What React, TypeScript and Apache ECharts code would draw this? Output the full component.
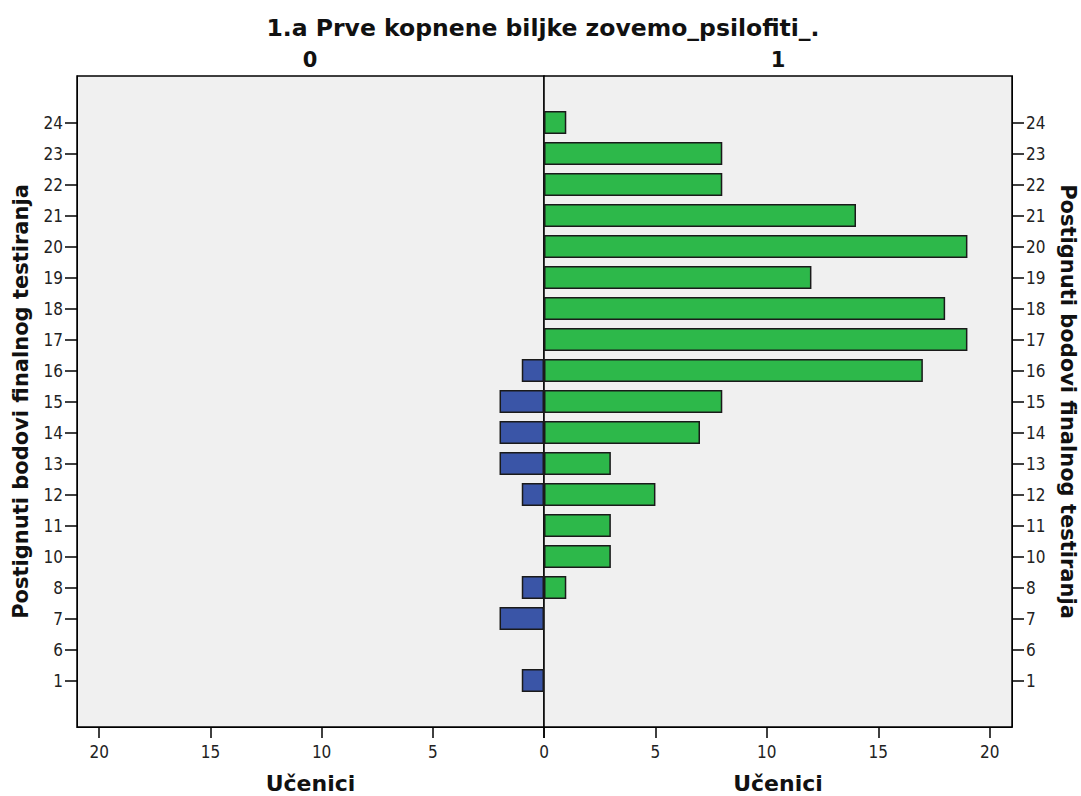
import React, { useEffect, useRef } from "react";
import * as echarts from "echarts";

const titleText = "1.a Prve kopnene biljke zovemo_psilofiti_.";
const panelLabels = ["0", "1"];
const xAxisName = "Učenici";
const yAxisName = "Postignuti bodovi finalnog testiranja";
const categories = ["1", "6", "7", "8", "10", "11", "12", "13", "14", "15", "16", "17", "18", "19", "20", "21", "22", "23", "24"];
const leftValues: (number | null)[] = [1, null, 2, 1, null, null, 1, 2, 2, 2, 1, null, null, null, null, null, null, null, null];
const rightValues: (number | null)[] = [null, null, null, 1, 3, 3, 5, 3, 7, 8, 17, 19, 18, 12, 19, 14, 8, 8, 1];
const xTicks = [0, 5, 10, 15, 20];

export default function App() {
  const ref = useRef<HTMLDivElement>(null);
  useEffect(() => {
    document.body.style.margin = "0";
    if (!ref.current) return;
    const chart = echarts.init(ref.current, null, { renderer: "svg" });
    const cats = ["", ...categories, ""];
    const pad = (arr: (number | null)[]) => ["-", ...arr.map((v) => (v == null ? "-" : v)), "-"];
    const boldFont = "DejaVu Sans, sans-serif";
    const tickFont = "DejaVu Sans Condensed, DejaVu Sans, sans-serif";
    const gridTop = 76;
    const gridH = 651;
    const mkY = (gi: number, pos: string) => ({
      type: "category",
      gridIndex: gi,
      position: pos,
      data: cats,
      boundaryGap: true,
      axisLine: { show: true, onZero: false, lineStyle: { color: "#000", width: 1 } },
      axisTick: {
        show: true,
        alignWithLabel: true,
        length: 12,
        lineStyle: { color: "#000", width: 1.5 },
        interval: (_i: number, v: string) => v !== "",
      },
      axisLabel: {
        interval: (_i: number, v: string) => v !== "",
        color: "#222",
        fontSize: 17,
        fontFamily: tickFont,
        margin: 14,
      },
      name: yAxisName,
      nameLocation: "middle",
      nameRotate: pos === "left" ? 90 : -90,
      nameGap: pos === "left" ? 46 : 45,
      nameTextStyle: { fontSize: 21, fontWeight: "bold", color: "#111", fontFamily: boldFont },
    });
    const mkX = (gi: number, inverse: boolean) => ({
      type: "value",
      gridIndex: gi,
      inverse,
      min: 0,
      max: 21,
      interval: 5,
      position: "bottom",
      splitLine: { show: false },
      axisLine: { show: true, onZero: false, lineStyle: { color: "#000", width: 1 } },
      axisTick: { show: true, length: 11, lineStyle: { color: "#000", width: 1.5 }, customValues: xTicks },
      axisLabel: {
        color: "#222",
        fontSize: 17,
        fontFamily: tickFont,
        margin: 16,
        customValues: inverse ? xTicks.slice(1) : xTicks,
      },
      name: xAxisName,
      nameLocation: "middle",
      nameGap: 45,
      nameTextStyle: { fontSize: 22, fontWeight: "bold", color: "#111", fontFamily: boldFont },
    });
    chart.setOption({
      animation: false,
      backgroundColor: "#fff",
      grid: [
        { left: 77, top: gridTop, width: 467, height: gridH, show: true, backgroundColor: "#f0f0f0", borderColor: "#000", borderWidth: 1.5, outerBoundsMode: "none", containLabel: false },
        { left: 544, top: gridTop, width: 468, height: gridH, show: true, backgroundColor: "#f0f0f0", borderColor: "#000", borderWidth: 1.5, outerBoundsMode: "none", containLabel: false },
      ],
      xAxis: [mkX(0, true), mkX(1, false)],
      yAxis: [mkY(0, "left"), mkY(1, "right")],
      series: [
        {
          type: "bar",
          xAxisIndex: 0,
          yAxisIndex: 0,
          data: pad(leftValues),
          barWidth: 23,
          itemStyle: { color: "#3a55a7", borderColor: "#1a1a1a", borderWidth: 1.5 },
        },
        {
          type: "bar",
          xAxisIndex: 1,
          yAxisIndex: 1,
          data: pad(rightValues),
          barWidth: 23,
          itemStyle: { color: "#2db84a", borderColor: "#1a1a1a", borderWidth: 1.5 },
        },
      ],
      graphic: [
        { type: "text", x: 543, y: 28, style: { text: titleText, textAlign: "center", textVerticalAlign: "middle", font: `bold 23.5px ${boldFont}`, fill: "#111" } },
        { type: "text", x: 310, y: 60, style: { text: panelLabels[0], textAlign: "center", textVerticalAlign: "middle", font: `bold 21px ${boldFont}`, fill: "#111" } },
        { type: "text", x: 778, y: 60, style: { text: panelLabels[1], textAlign: "center", textVerticalAlign: "middle", font: `bold 21px ${boldFont}`, fill: "#111" } },
      ],
    });
    return () => chart.dispose();
  }, []);
  return <div ref={ref} style={{ width: 1081, height: 796 }} />;
}
